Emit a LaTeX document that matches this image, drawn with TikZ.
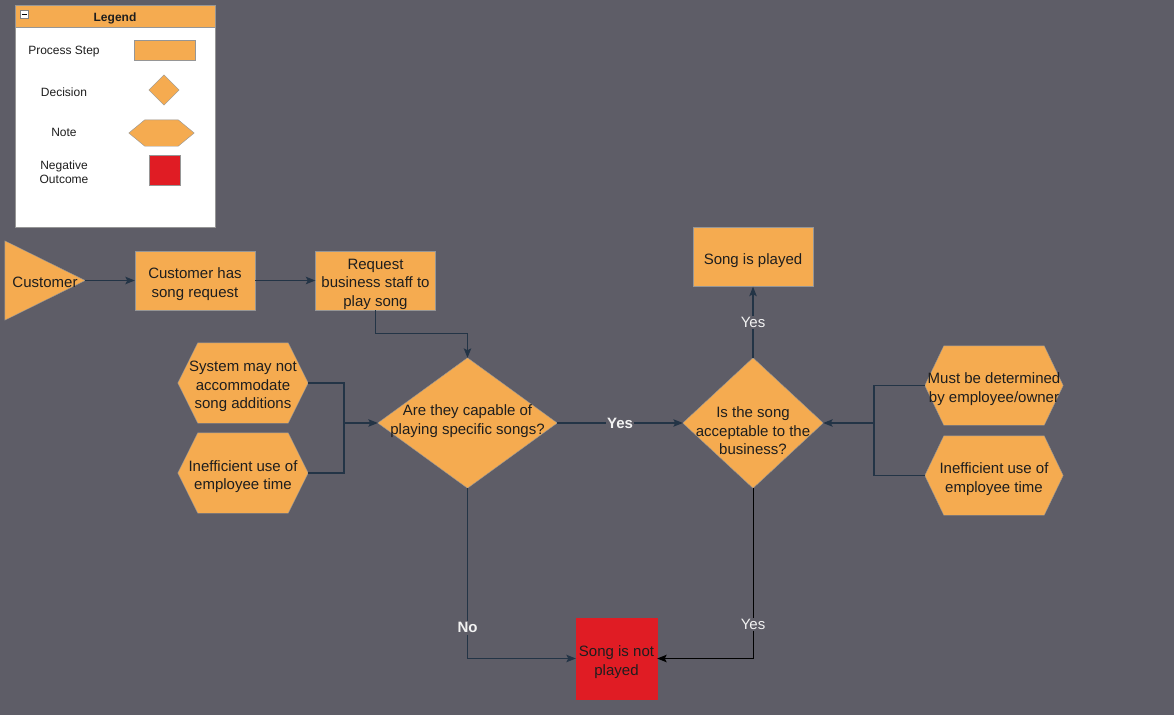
\documentclass[tikz,border=0pt]{standalone}
\usepackage{fontspec}
\setmainfont{Liberation Sans}
\usetikzlibrary{arrows.meta,calc}
\pgfdeclarelayer{bgl}
\pgfdeclarelayer{back}
\pgfsetlayers{bgl,back,main}
\definecolor{bgc}{RGB}{94,93,103}
\definecolor{orng}{RGB}{245,171,80}
\definecolor{edg}{RGB}{150,150,150}
\definecolor{conn}{RGB}{35,52,70}
\definecolor{redc}{RGB}{224,28,36}
\definecolor{txt}{RGB}{30,30,30}
\definecolor{lbltxt}{RGB}{242,242,242}
\newcommand{\hexshape}[2]{%
  \begin{pgfonlayer}{back}
  \draw[draw=edg,fill=orng] (#1.west) -- ($(#1.north west)+(#2,0)$) -- ($(#1.north east)+(-#2,0)$) -- (#1.east) -- ($(#1.south east)+(-#2,0)$) -- ($(#1.south west)+(#2,0)$) -- cycle;
  \end{pgfonlayer}}
\newcommand{\diashape}[1]{%
  \begin{pgfonlayer}{back}
  \draw[draw=edg,fill=orng] (#1.north) -- (#1.east) -- (#1.south) -- (#1.west) -- cycle;
  \end{pgfonlayer}}
\begin{document}
\begin{tikzpicture}[x=1pt,y=-1pt,
  mainfont/.style={font=\fontsize{15}{18.5}\selectfont},
  smallfont/.style={font=\fontsize{12}{13.5}\selectfont},
  proc/.style={draw=edg, fill=orng, inner sep=0pt, minimum width=120pt, minimum height=59pt},
  box/.style={inner sep=0pt},
  ptext/.style={inner sep=0pt, align=center, mainfont, text=txt, yshift=-3.5pt},
  line/.style={draw=conn, line width=1.1pt},
  arr/.style={line, -{Stealth[length=9.5pt,width=7.5pt,inset=2pt]}},
  lbl/.style={fill=bgc, inner sep=1.5pt, mainfont, text=lbltxt},
  lblb/.style={lbl, font=\fontsize{15}{18.5}\selectfont\bfseries},
  legtxt/.style={smallfont, text=txt, align=center, inner sep=0pt}
]
\useasboundingbox (0,0) rectangle (1174,715);
\begin{pgfonlayer}{bgl}
\fill[bgc] (0,0) rectangle (1174,715);
% Legend frame
\draw[draw=edg, fill=white, line width=0.8pt] (15,5) rectangle (215,227);
\draw[draw=edg, fill=orng, line width=0.8pt] (15,5) rectangle (215,27);
\end{pgfonlayer}

% Legend
\node[font=\fontsize{12}{13.5}\selectfont\bfseries, text=txt, inner sep=0pt] (legtitle) at (115,18) {Legend};
\draw[draw=gray, fill=white, line width=0.6pt] (20,10) rectangle (28,18);
\draw[black, line width=1pt] (21.5,14) -- (26.5,14);
\node[legtxt] (lt1) at (64,52) {Process Step};
\node[legtxt] (lt2) at (64,92) {Decision};
\node[legtxt] (lt3) at (64,132) {Note};
\node[legtxt] (lt4) at (64,172) {Negative\\Outcome};
\node[draw=edg, fill=orng, minimum width=61pt, minimum height=20pt, inner sep=0pt] (lr) at (164.5,50) {};
\node[box, minimum width=30pt, minimum height=30pt] (ld) at (164,90) {};
\diashape{ld}
\node[box, minimum width=65pt, minimum height=26pt] (lh) at (161.5,133) {};
\hexshape{lh}{16}
\node[draw=edg, fill=redc, minimum width=31pt, minimum height=30pt, inner sep=0pt] (lred) at (164.5,170) {};

% Customer triangle
\node[box, minimum width=80pt, minimum height=79pt] (cust) at (45,280.5) {};
\begin{pgfonlayer}{back}
\draw[draw=edg, fill=orng] (cust.north west) -- (cust.east) -- (cust.south west) -- cycle;
\end{pgfonlayer}
\node[ptext, yshift=2pt] (custt) at (cust) {Customer};

% Process boxes
\node[proc] (b1) at (195,280.5) {};
\node[ptext] (b1t) at (b1) {Customer has\\song request};
\node[proc] (b2) at (375.5,280.5) {};
\node[ptext] (b2t) at (b2) {Request\\business staff to\\play song};
\node[proc] (played) at (753,257) {};
\node[ptext] (playedt) at (played) {Song is played};
\node[proc, fill=redc, draw=redc, minimum width=81pt, minimum height=81pt] (notp) at (616.5,658.5) {};
\node[ptext] (notpt) at (notp) {Song is not\\played};

% Decisions
\node[box, minimum width=179pt, minimum height=130pt] (d1) at (467.5,423) {};
\diashape{d1}
\node[ptext] (d1t) at (467.5,417.5) {Are they capable of\\playing specific songs?};
\node[box, minimum width=140pt, minimum height=130pt] (d2) at (753,423) {};
\diashape{d2}
\node[ptext] (d2t) at (753,427.5) {Is the song\\acceptable to the\\business?};

% Notes
\node[box, minimum width=130pt, minimum height=80pt] (h1) at (243,383) {};
\hexshape{h1}{20}
\node[ptext] (h1t) at (h1) {System may not\\accommodate\\song additions};
\node[box, minimum width=130pt, minimum height=80pt] (h2) at (243,473) {};
\hexshape{h2}{20}
\node[ptext] (h2t) at (h2) {Inefficient use of\\employee time};
\node[box, minimum width=138pt, minimum height=79pt] (h3) at (994,385.5) {};
\hexshape{h3}{19}
\node[ptext] (h3t) at (h3) {Must be determined\\by employee/owner};
\node[box, minimum width=138pt, minimum height=79pt] (h4) at (994,475.5) {};
\hexshape{h4}{19}
\node[ptext] (h4t) at (h4) {Inefficient use of\\employee time};

\coordinate (j1) at (344,423);
\coordinate (j2) at (874,423);

% Connectors
\draw[arr] (cust.east) -- (b1.west);
\draw[arr] (b1.east) -- (b2.west);
\draw[arr] (b2.south) -- ++(0,23) -| (d1.north);
\draw[line] (h1.east) -| (j1);
\draw[line] (h2.east) -| (j1);
\draw[arr] (j1) -- (d1.west);
\draw[arr] (d1.east) -- node[lblb] {Yes} (d2.west);
\draw[arr] (d2.north) -- node[lbl] {Yes} (played.south);
\draw[line] (h3.west) -| (j2);
\draw[line] (h4.west) -| (j2);
\draw[arr] (j2) -- (d2.east);
\draw[arr] (d1.south) |- node[lblb, pos=0.41] {No} (notp.west);
\draw[arr, draw=black, line width=1pt] (d2.south) |- node[lbl, pos=0.40] {Yes} (notp.east);
\end{tikzpicture}
\end{document}
